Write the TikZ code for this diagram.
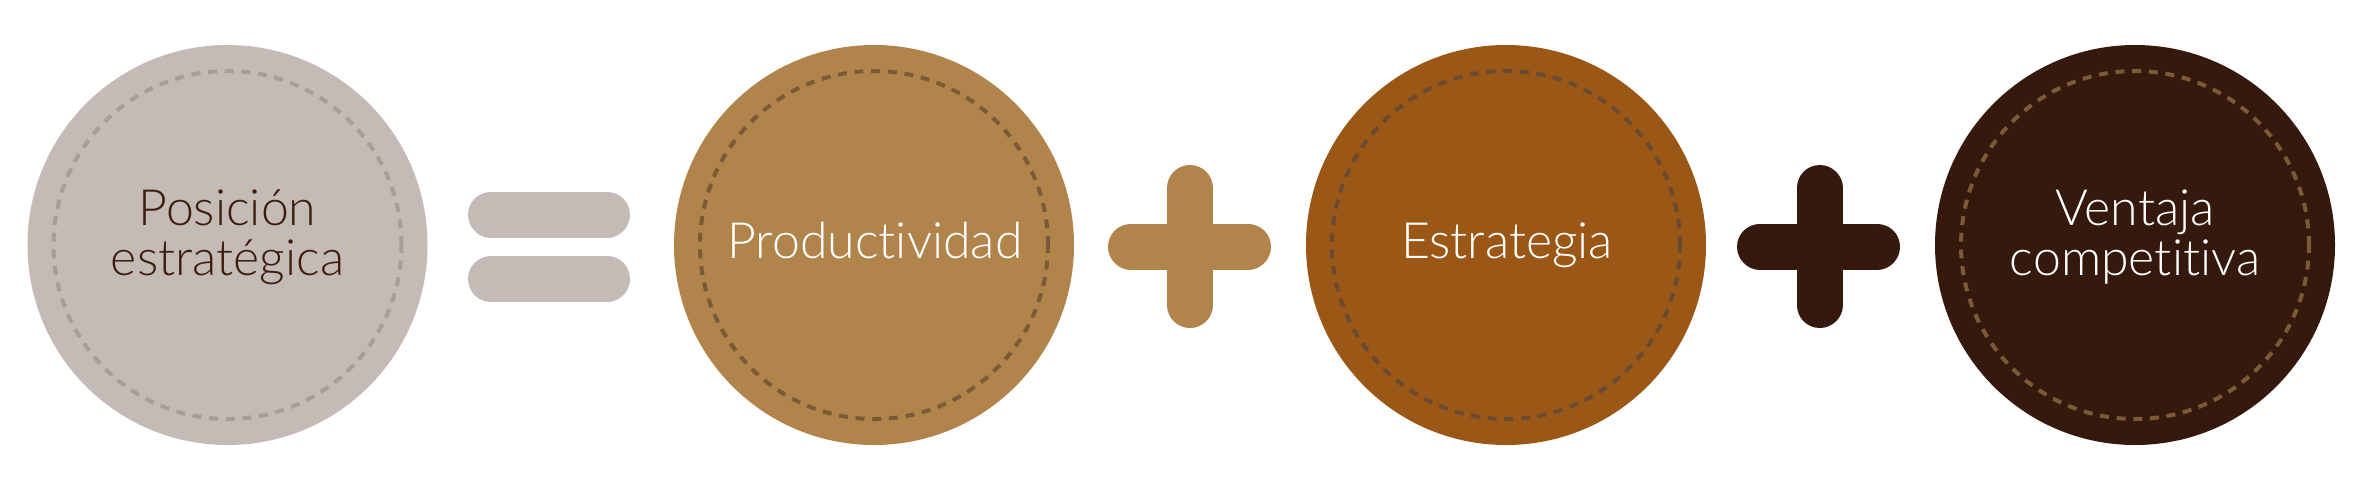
\documentclass[tikz,border=0pt]{standalone}
\usepackage{fontspec}
\setmainfont{Lato Light}[Ligatures=NoCommon]
\definecolor{cA}{HTML}{C4BAB6}
\definecolor{dA}{HTML}{A89E95}
\definecolor{cB}{HTML}{B0844B}
\definecolor{dB}{HTML}{7B5A37}
\definecolor{cC}{HTML}{9A5716}
\definecolor{dC}{HTML}{6A4A30}
\definecolor{cD}{HTML}{35190C}
\definecolor{dD}{HTML}{7A5B36}
\definecolor{tA}{HTML}{3D1D0E}
\tikzset{
  disc/.style={circle, minimum size=400pt, inner sep=0pt, draw=none},
  ring/.style={circle, minimum size=348pt, inner sep=0pt, line width=4pt, dash pattern=on 9pt off 7.7pt},
  lbl/.style={anchor=base, inner sep=0pt, font=\fontsize{50}{50}\selectfont},
  bar/.style={line width=46pt, line cap=round},
}
\begin{document}
\begin{tikzpicture}[x=1pt,y=-1pt]
\useasboundingbox (0,0) rectangle (2359,499);
% circles
\node[disc, fill=cA] (c1) at (227.5,245) {};
\node[ring, draw=dA] (r1) at (c1) {};
\node[disc, fill=cB] (c2) at (874,245) {};
\node[ring, draw=dB] (r2) at (c2) {};
\node[disc, fill=cC] (c3) at (1506,245) {};
\node[ring, draw=dC] (r3) at (c3) {};
\node[disc, fill=cD] (c4) at (2135,245) {};
\node[ring, draw=dD] (r4) at (c4) {};
% labels
\node[lbl, text=tA] (t1a) at (227.5,225) {Posición};
\node[lbl, text=tA] (t1b) at (227.5,275) {estratégica};
\node[lbl, text=white] (t2) at (875,258) {Productividad};
\node[lbl, text=white] (t3) at (1507,258) {Estrategia};
\node[lbl, text=white] (t4a) at (2135,225) {Ventaja};
\node[lbl, text=white] (t4b) at (2135,275) {competitiva};
% equals
\coordinate (e1l) at (491,214.5); \coordinate (e1r) at (607,214.5);
\coordinate (e2l) at (491,279); \coordinate (e2r) at (607,279);
\draw[bar, cA] (e1l) -- (e1r);
\draw[bar, cA] (e2l) -- (e2r);
% plus 1
\coordinate (p1l) at (1131,246.5); \coordinate (p1r) at (1248,246.5);
\coordinate (p1t) at (1190,188); \coordinate (p1b) at (1190,305);
\draw[bar, cB] (p1l) -- (p1r);
\draw[bar, cB] (p1t) -- (p1b);
% plus 2
\coordinate (p2l) at (1760,246.5); \coordinate (p2r) at (1877,246.5);
\coordinate (p2t) at (1819.5,188); \coordinate (p2b) at (1819.5,305);
\draw[bar, cD] (p2l) -- (p2r);
\draw[bar, cD] (p2t) -- (p2b);
\end{tikzpicture}
\end{document}
